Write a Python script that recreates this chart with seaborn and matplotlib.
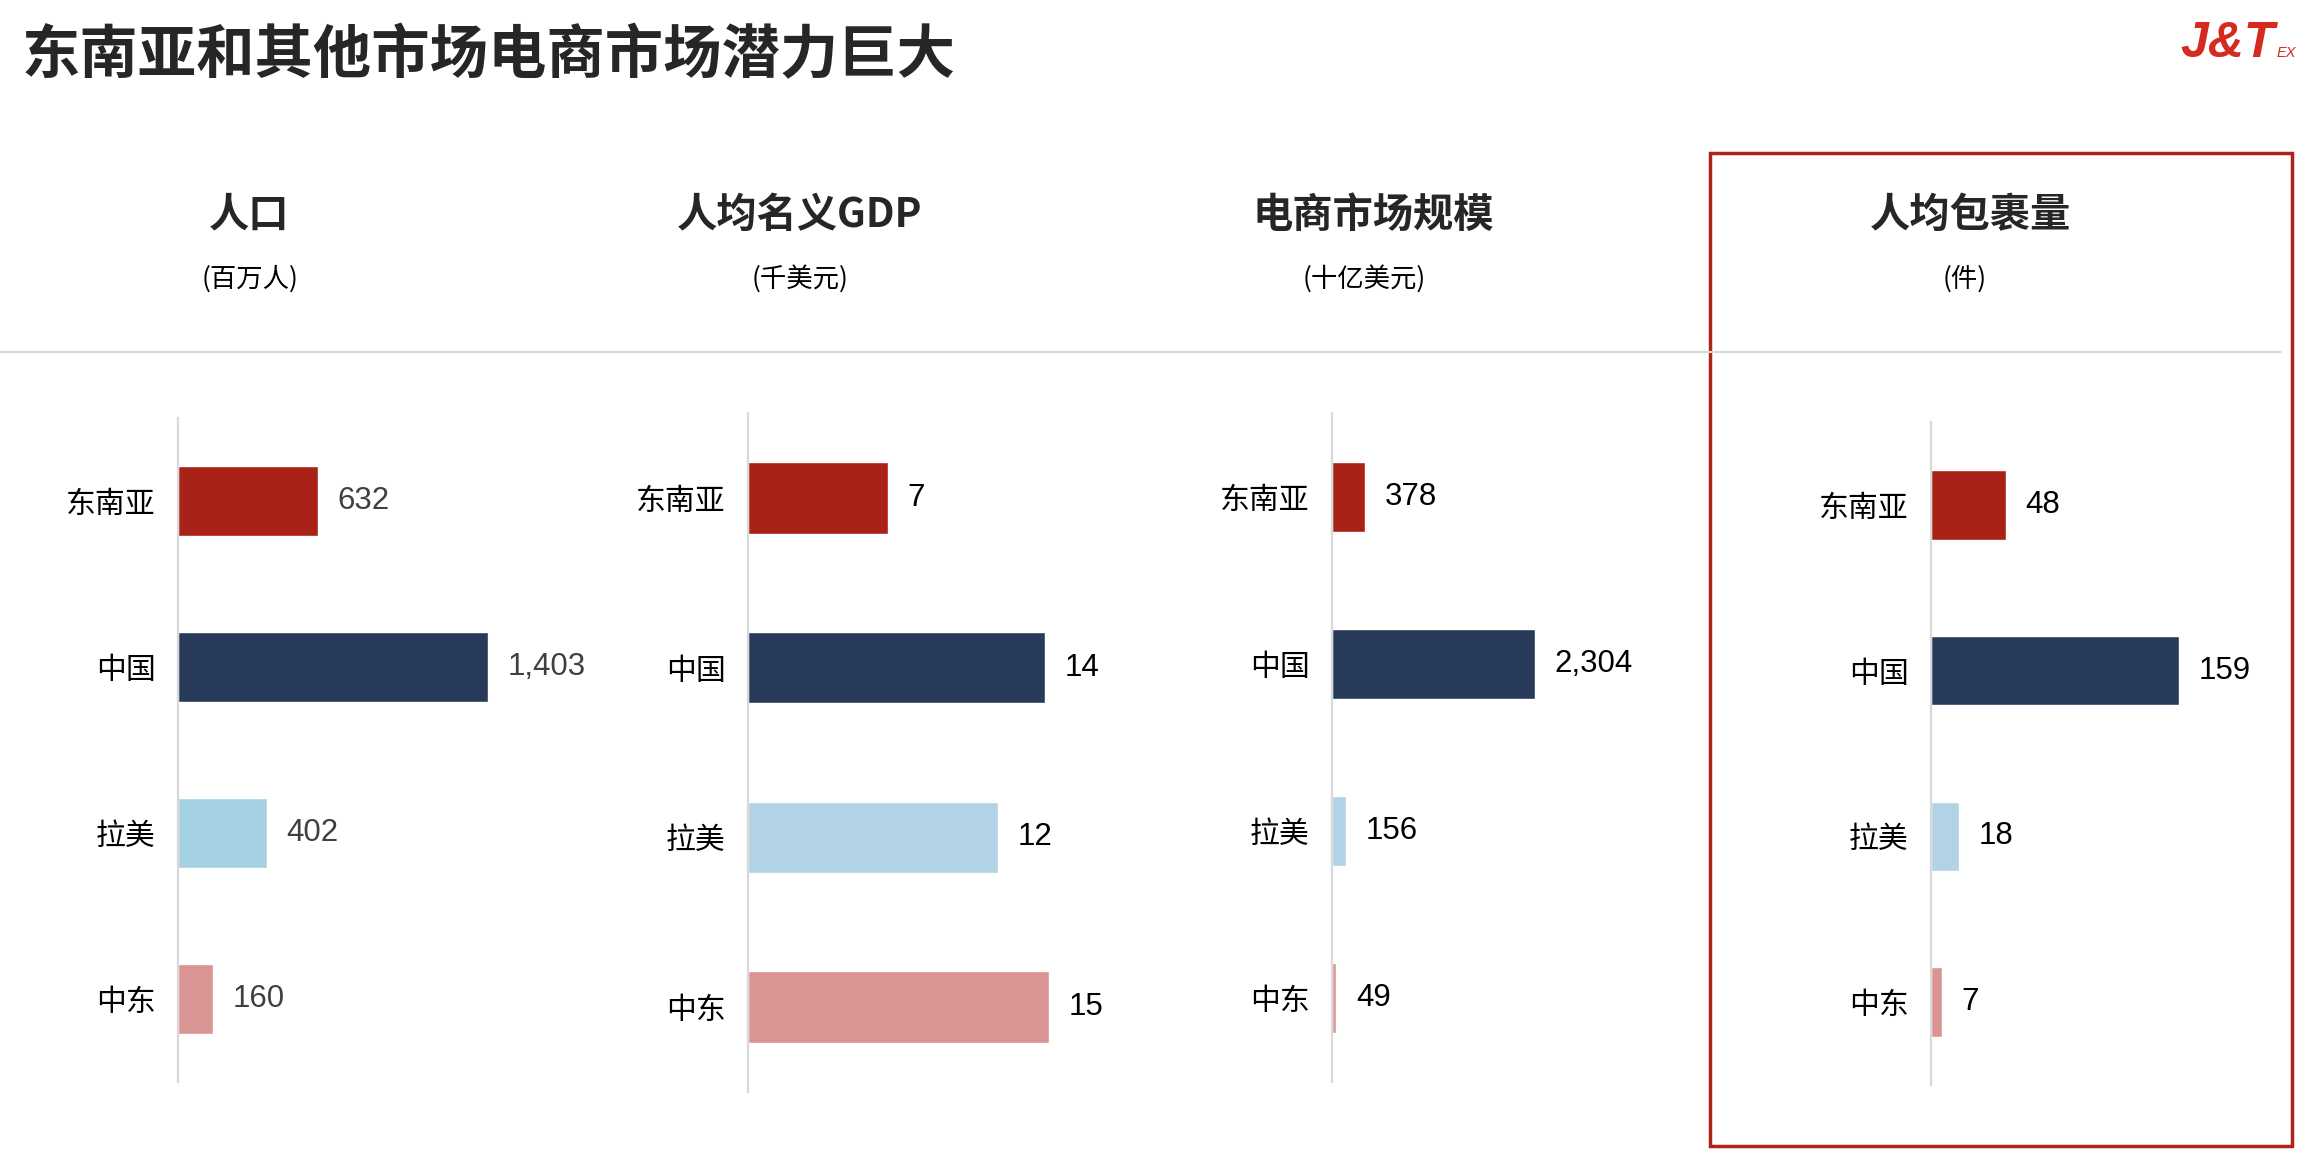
import matplotlib
matplotlib.use('Agg')
import pandas as pd
import seaborn as sns
import matplotlib.pyplot as plt
from matplotlib.patches import Rectangle
from matplotlib.lines import Line2D

# Data
regions = ['东南亚', '中国', '拉美', '中东']

population = [632, 1403, 402, 160]
population_labels = ['632', '1,403', '402', '160']

gdp_per_capita = [6.6, 14.0, 11.8, 14.2]
gdp_labels = ['7', '14', '12', '15']

ecommerce_size = [378, 2304, 156, 49]
ecommerce_labels = ['378', '2,304', '156', '49']

parcels_per_capita = [48, 159, 18, 7]
parcels_labels = ['48', '159', '18', '7']

headers = ['人口', '人均名义GDP', '电商市场规模', '人均包裹量']
units = ['(百万人)', '(千美元)', '(十亿美元)', '(件)']

title = '东南亚和其他市场电商市场潜力巨大'

# Colours
red = '#A82217'
navy = '#283A59'
pink = '#D99594'
colors_first = [red, navy, '#A5D1E3', pink]
colors_rest = [red, navy, '#B2D2E5', pink]

sns.set_style('white')
plt.rcParams['font.family'] = ['Noto Sans CJK SC', 'DejaVu Sans']

W, H = 2298, 1156
fig = plt.figure(figsize=(W / 100, H / 100), dpi=100)


def box(left, top, right, bottom):
    return [left / W, 1 - bottom / H, (right - left) / W, (bottom - top) / H]


# panel layout in pixels: left, top, bottom, px per unit
panels = [
    (population, population_labels, colors_first, '#404040', 178, 418, 1082, 310 / 1403),
    (gdp_per_capita, gdp_labels, colors_rest, 'black', 748, 413, 1092, 297 / 14.0),
    (ecommerce_size, ecommerce_labels, colors_rest, 'black', 1332, 413, 1082, 203 / 2304),
    (parcels_per_capita, parcels_labels, colors_rest, 'black', 1931, 422, 1085, 248 / 159),
]
AX_W = 450

for vals, labels, cols, lab_color, left, top, bottom, ppu in panels:
    ax = fig.add_axes(box(left, top, left + AX_W, bottom))
    df = pd.DataFrame({'region': regions, 'value': vals})
    sns.barplot(data=df, x='value', y='region', hue='region', palette=cols,
                order=regions, hue_order=regions, width=0.42, saturation=1,
                legend=False, ax=ax)
    ax.set_ylim(3.5, -0.5)
    ax.set_xlim(0, AX_W / ppu)
    ax.set_xlabel('')
    ax.set_ylabel('')
    ax.set_xticks([])
    for s in ['top', 'right', 'bottom']:
        ax.spines[s].set_visible(False)
    ax.spines['left'].set_color('#D9D9D9')
    ax.spines['left'].set_linewidth(1.6)
    ax.tick_params(axis='y', length=0, pad=16, labelsize=21.5, labelcolor='black')
    ax.patch.set_alpha(0)
    for i, (v, t) in enumerate(zip(vals, labels)):
        ax.annotate(t, xy=(v, i), xytext=(14, 0), textcoords='offset points',
                    ha='left', va='center', fontsize=22.5, color=lab_color,
                    family='Liberation Sans', annotation_clip=False)

# headers
header_x = [249, 800, 1373, 1970]
unit_x = [250, 800, 1364, 1965]
for hx, ux, hd, un in zip(header_x, unit_x, headers, units):
    fig.text(hx / W, 1 - 215 / H, hd, ha='center', va='center',
             fontsize=29, fontweight='bold')
    fig.text(ux / W, 1 - 279 / H, un, ha='center', va='center',
             fontsize=19, color='black')

# title
fig.text(22 / W, 1 - 56 / H, title, ha='left', va='center',
         fontsize=42, fontweight='bold')

# separator line
fig.add_artist(Line2D([0, 2281 / W], [1 - 352 / H, 1 - 352 / H],
                      color='#D9D9D9', lw=1.5, transform=fig.transFigure))

# highlight box
fig.add_artist(Rectangle((1710 / W, 1 - 1146 / H), (2292 - 1710) / W, (1146 - 153) / H,
                         fill=False, ec='#B0231B', lw=2.5, transform=fig.transFigure))

# logo
fig.text(2180 / W, 1 - 57 / H, 'J&T', ha='left', va='baseline', fontsize=36,
         fontweight='bold', style='italic', color='#D42A20', family='Liberation Sans')
fig.text(2277 / W, 1 - 57 / H, 'EX', ha='left', va='baseline', fontsize=10.5,
         style='italic', color='#D42A20', family='Liberation Sans')

fig.savefig('out.png', dpi=100)
